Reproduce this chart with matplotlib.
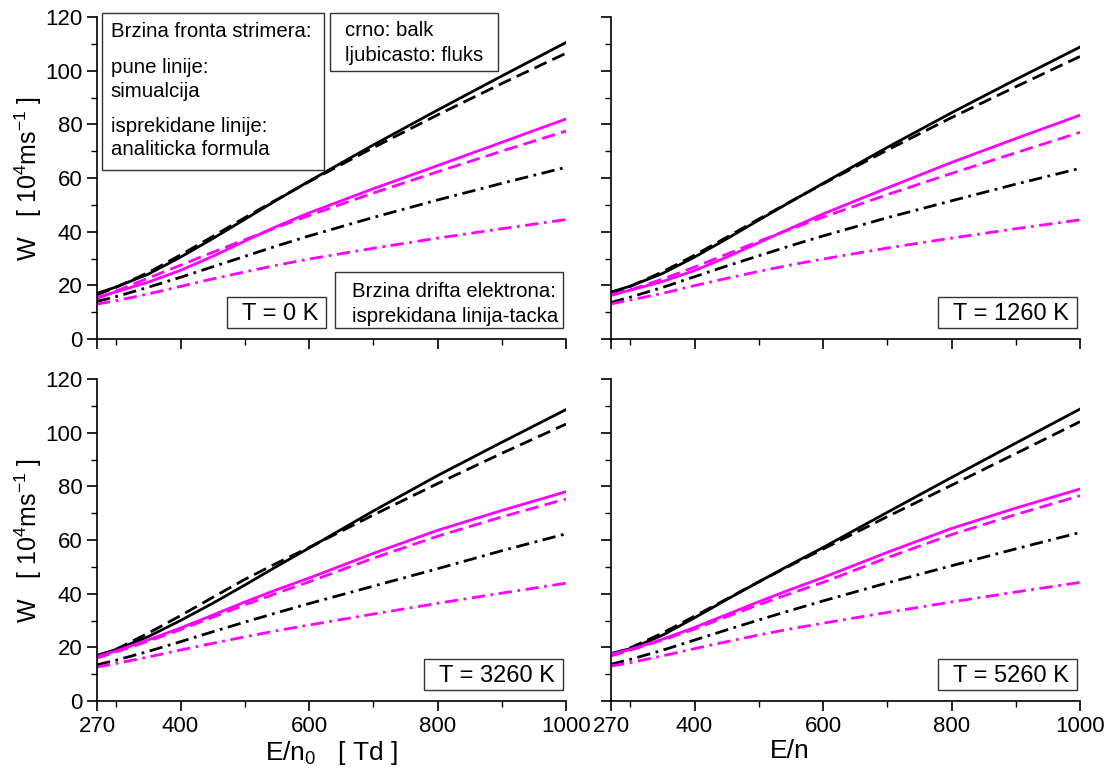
import matplotlib
matplotlib.use("Agg")
import matplotlib.pyplot as plt
from matplotlib.patches import Rectangle
from matplotlib.ticker import MultipleLocator, FixedLocator

plt.rcParams['font.family'] = ['Liberation Sans', 'DejaVu Sans']
plt.rcParams['mathtext.fontset'] = 'custom'
plt.rcParams['mathtext.rm'] = 'Liberation Sans'
plt.rcParams['mathtext.it'] = 'Liberation Sans:italic'

# E/n0 [Td]
E = [270, 300, 350, 400, 450, 500, 550, 600, 700, 800, 900, 1000]

# T = 0 K
bulk_sim_0 = [17, 19.4, 24.2, 30.5, 37.4, 44.6, 51.8, 58.8, 72.3, 85.3, 98, 110.5]
bulk_an_0 = [16.5, 19.3, 24.8, 31.3, 38.2, 45.2, 52, 58.6, 71.3, 83.5, 95.2, 106.5]
flux_sim_0 = [15.5, 17.6, 21.2, 25.6, 30.8, 36.5, 42, 47, 56, 64.6, 73.3, 82]
flux_an_0 = [15, 17.9, 22.7, 27.5, 32.3, 37, 41.6, 46, 54.4, 62.3, 70, 77.5]
drift_bulk_0 = [14, 15.8, 19.3, 23, 26.9, 30.8, 34.7, 38.4, 45.3, 51.8, 58, 64]
drift_flux_0 = [13, 14.3, 16.8, 19.6, 22.4, 25, 27.5, 29.8, 33.8, 37.6, 41.1, 44.5]

# T = 1260 K
bulk_sim_1260 = [17.5, 19.7, 24.4, 30.5, 37.3, 44.3, 51.2, 58, 71.4, 84.3, 96.7, 108.8]
bulk_an_1260 = [17, 19.6, 25, 31.2, 37.9, 44.7, 51.3, 57.8, 70.4, 82.5, 94, 105.3]
flux_sim_1260 = [16.5, 18.2, 21.4, 25.5, 30.5, 35.9, 41.3, 46.6, 56.3, 65.8, 74.7, 83.4]
flux_an_1260 = [16.2, 18.3, 22.3, 26.8, 31.6, 36.4, 41, 45.4, 53.8, 61.7, 69.4, 77]
drift_bulk_1260 = [13.6, 15.6, 19.2, 23.2, 27.2, 31, 34.8, 38.4, 45.2, 51.5, 57.7, 63.6]
drift_flux_1260 = [13.1, 14.5, 17, 19.9, 22.6, 25.2, 27.6, 29.8, 33.9, 37.6, 41.1, 44.4]

# T = 3260 K
bulk_sim_3260 = [17, 19.2, 24, 30, 36.4, 43.2, 50.2, 57, 70.8, 84, 96.4, 108.6]
bulk_an_3260 = [16.5, 19.3, 25.3, 31.8, 38.6, 45.3, 51.4, 57.2, 69.3, 81, 92.3, 103.2]
flux_sim_3260 = [16.5, 18.7, 22.8, 27.2, 32, 36.9, 41.5, 45.8, 55, 63.6, 71, 78]
flux_an_3260 = [16, 18.3, 22.3, 26.6, 31.2, 35.8, 40.2, 44.4, 53.2, 61.4, 68.6, 75.3]
drift_bulk_3260 = [13.5, 15.2, 18.5, 22.1, 25.8, 29.4, 32.9, 36.3, 42.8, 49.3, 56, 62.3]
drift_flux_3260 = [12.7, 14, 16.4, 19, 21.5, 23.9, 26.2, 28.3, 32.4, 36.4, 40.2, 43.9]

# T = 5260 K
bulk_sim_5260 = [17.7, 19.5, 24.5, 31, 37.8, 44.4, 50.9, 57.2, 70.3, 83.3, 96.1, 108.8]
bulk_an_5260 = [17, 19.8, 25.3, 31.6, 38, 44.4, 50.6, 56.6, 68.7, 80.4, 92.2, 104.1]
flux_sim_5260 = [17.4, 19.2, 23, 27.4, 32.2, 37, 41.6, 46, 55.4, 64.3, 71.9, 79]
flux_an_5260 = [16.8, 18.9, 22.7, 26.8, 31.4, 35.9, 40.1, 44.2, 53.4, 62, 69.5, 76.5]
drift_bulk_5260 = [13.7, 15.5, 18.9, 22.7, 26.5, 30.2, 33.8, 37.3, 44, 50.4, 56.7, 62.8]
drift_flux_5260 = [13, 14.3, 16.8, 19.5, 22.1, 24.6, 26.9, 29, 33, 36.9, 40.6, 44.2]

temps = ["T = 0 K", "T = 1260 K", "T = 3260 K", "T = 5260 K"]
panels = [
    (bulk_sim_0, bulk_an_0, flux_sim_0, flux_an_0, drift_bulk_0, drift_flux_0),
    (bulk_sim_1260, bulk_an_1260, flux_sim_1260, flux_an_1260, drift_bulk_1260, drift_flux_1260),
    (bulk_sim_3260, bulk_an_3260, flux_sim_3260, flux_an_3260, drift_bulk_3260, drift_flux_3260),
    (bulk_sim_5260, bulk_an_5260, flux_sim_5260, flux_an_5260, drift_bulk_5260, drift_flux_5260),
]

MAG = '#ff00ff'
LW = 2.0
DASH = (4.8, 2.3)
DASHDOT = (4.8, 2.0, 1.0, 2.0)

fig = plt.figure(figsize=(11.07, 7.78), dpi=100)
W, H = 1107, 778
aw, ah = 469 / W, 322 / H
lefts = [97 / W, 611 / W]
bottoms = [(H - 339) / H, (H - 701) / H]

axes = []
for i in range(4):
    r, c = divmod(i, 2)
    ax = fig.add_axes([lefts[c], bottoms[r], aw, ah])
    axes.append(ax)
    bs, ba, fs, fa, db, df = panels[i]
    ax.plot(E, bs, color='black', lw=LW)
    ax.plot(E, ba, color='black', lw=LW, dashes=DASH)
    ax.plot(E, fs, color=MAG, lw=LW)
    ax.plot(E, fa, color=MAG, lw=LW, dashes=DASH)
    ax.plot(E, db, color='black', lw=LW, dashes=DASHDOT)
    ax.plot(E, df, color=MAG, lw=LW, dashes=DASHDOT)

    ax.set_xlim(270, 1000)
    ax.set_ylim(0, 120)
    ax.xaxis.set_major_locator(FixedLocator([270, 400, 600, 800, 1000]))
    ax.xaxis.set_minor_locator(FixedLocator([300, 500, 700, 900]))
    ax.yaxis.set_major_locator(MultipleLocator(20))
    ax.yaxis.set_minor_locator(MultipleLocator(10))
    for s in ['top', 'right']:
        ax.spines[s].set_visible(False)
    for s in ['left', 'bottom']:
        ax.spines[s].set_linewidth(1.2)
    ax.tick_params(which='major', direction='out', length=7, width=1.2, labelsize=16)
    ax.tick_params(which='minor', direction='out', length=4, width=1.0)
    if r == 0:
        ax.tick_params(labelbottom=False)
    if c == 1:
        ax.tick_params(labelleft=False)
    else:
        ax.set_ylabel(r"W   [ 10$^{4}$ms$^{-1}$ ]", fontsize=18)
        ax.yaxis.set_label_coords(-0.112, 0.5)

    # temperature box
    if i == 0:
        x0, x1 = 0.277, 0.488
    else:
        x0, x1 = 0.698, 0.993
    ax.add_patch(Rectangle((x0, 0.033), x1 - x0, 0.097, transform=ax.transAxes,
                           fill=False, ec='#333333', lw=1.0, clip_on=False))
    ax.text((x0 + x1) / 2 + 0.008, 0.078, temps[i], transform=ax.transAxes,
            fontsize=17, ha='center', va='center')

axes[2].set_xlabel(r"E/n$_0$   [ Td ]", fontsize=19)
axes[2].xaxis.set_label_coords(0.5, -0.118)
axes[3].set_xlabel("E/n", fontsize=19)
axes[3].xaxis.set_label_coords(0.382, -0.118)

ax = axes[0]
box_kw = dict(transform=ax.transAxes, fill=False, ec='#333333', lw=1.0, clip_on=False)
ax.add_patch(Rectangle((0.010, 0.525), 0.474, 0.488, **box_kw))
ax.add_patch(Rectangle((0.497, 0.832), 0.358, 0.181, **box_kw))
ax.add_patch(Rectangle((0.507, 0.033), 0.487, 0.176, **box_kw))

txt_kw = dict(transform=ax.transAxes, fontsize=14.7, ha='left', va='center')
ax.text(0.029, 0.954, "Brzina fronta strimera:", **txt_kw)
ax.text(0.029, 0.843, "pune linije:", **txt_kw)
ax.text(0.029, 0.768, "simualcija", **txt_kw)
ax.text(0.029, 0.661, "isprekidane linije:", **txt_kw)
ax.text(0.029, 0.587, "analiticka formula", **txt_kw)
ax.text(0.529, 0.957, "crno: balk", **txt_kw)
ax.text(0.529, 0.879, "ljubicasto: fluks", **txt_kw)
ax.text(0.543, 0.149, "Brzina drifta elektrona:", **txt_kw)
ax.text(0.543, 0.069, "isprekidana linija-tacka", **txt_kw)

fig.savefig("out.png", dpi=100)
